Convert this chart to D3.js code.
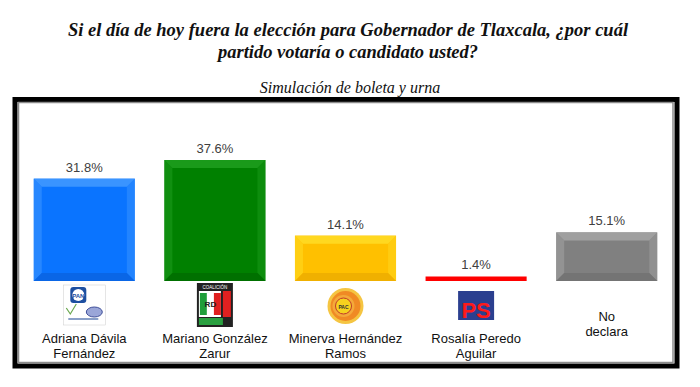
<!DOCTYPE html>
<html>
<head>
<meta charset="utf-8">
<script src="https://cdn.jsdelivr.net/npm/d3@7"></script>
<style>
  body { margin: 0; background: #fff; }
  svg { display: block; }
</style>
</head>
<body>
<script>
// Data
var candidatos = [
  ["Adriana Dávila", "Fernández"],
  ["Mariano González", "Zarur"],
  ["Minerva Hernández", "Ramos"],
  ["Rosalía Peredo", "Aguilar"],
  ["No", "declara"]
];
var valores = [31.8, 37.6, 14.1, 1.4, 15.1];
var logos = ["pan", "pri", "pac", "ps", ""];

// Colours: base, light edge, dark edge
var colores = [
  {base: "#0a74ff", light: "#3a94ff", dark: "#0a66e6"},
  {base: "#008000", light: "#1a9a1a", dark: "#007000"},
  {base: "#ffc000", light: "#ffd820", dark: "#f0b000"},
  {base: "#ff0000", light: "#ff2020", dark: "#e80000"},
  {base: "#808080", light: "#a0a0a0", dark: "#747474"}
];

var width = 700, height = 387;

var svg = d3.select("body").append("svg")
    .attr("width", width)
    .attr("height", height);

// Title
var title = svg.append("text")
    .attr("text-anchor", "middle")
    .style("font-family", "'Liberation Serif', 'Times New Roman', serif")
    .style("font-weight", "bold")
    .style("font-style", "italic")
    .style("font-size", "18.5px")
    .attr("fill", "#111");
title.append("tspan").attr("x", 348).attr("y", 36)
    .text("Si el día de hoy fuera la elección para Gobernador de Tlaxcala, ¿por cuál");
title.append("tspan").attr("x", 348).attr("y", 58)
    .text("partido votaría o candidato usted?");

svg.append("text")
    .attr("x", 350).attr("y", 93)
    .attr("text-anchor", "middle")
    .style("font-family", "'Liberation Serif', 'Times New Roman', serif")
    .style("font-style", "italic")
    .style("font-size", "16px")
    .attr("fill", "#111")
    .text("Simulación de boleta y urna");

// Frame (double border)
svg.append("rect")
    .attr("x", 15).attr("y", 99.5)
    .attr("width", 662).attr("height", 266.5)
    .attr("fill", "#fff")
    .attr("stroke", "#000")
    .attr("stroke-width", 5);
svg.append("rect")
    .attr("x", 18.5).attr("y", 102.5)
    .attr("width", 654.5).attr("height", 260)
    .attr("fill", "none")
    .attr("stroke", "#8c8c8c")
    .attr("stroke-width", 1.5);

// Scales
var x = d3.scaleBand()
    .domain(d3.range(valores.length))
    .range([19, 672])
    .paddingInner(0.226)
    .paddingOuter(0.113);

var y = d3.scaleLinear()
    .domain([0, 37.6])
    .range([281, 160]);

// Bars with a soft bevel
var bars = svg.selectAll("g.bar")
    .data(valores)
  .enter().append("g")
    .attr("class", "bar");

bars.each(function(d, i) {
  var g = d3.select(this);
  var x0 = x(i), x1 = x(i) + x.bandwidth();
  var y0 = y(d), y1 = y(0);
  var c = colores[i];
  var b = Math.min(8, (y1 - y0) / 2);
  g.append("rect")
      .attr("x", x0).attr("y", y0)
      .attr("width", x1 - x0).attr("height", y1 - y0)
      .attr("fill", c.base);
  if (y1 - y0 < 10) return;
  // top edge
  g.append("path")
      .attr("d", "M" + x0 + "," + y0 + "L" + x1 + "," + y0 + "L" + (x1 - b) + "," + (y0 + b) + "L" + (x0 + b) + "," + (y0 + b) + "Z")
      .attr("fill", c.light);
  // left edge
  g.append("path")
      .attr("d", "M" + x0 + "," + y0 + "L" + (x0 + b) + "," + (y0 + b) + "L" + (x0 + b) + "," + (y1 - b) + "L" + x0 + "," + y1 + "Z")
      .attr("fill", c.light).attr("opacity", 0.6);
  // right edge
  g.append("path")
      .attr("d", "M" + x1 + "," + y0 + "L" + x1 + "," + y1 + "L" + (x1 - b) + "," + (y1 - b) + "L" + (x1 - b) + "," + (y0 + b) + "Z")
      .attr("fill", c.light).attr("opacity", 0.5);
  // bottom edge
  g.append("path")
      .attr("d", "M" + x0 + "," + y1 + "L" + (x0 + b) + "," + (y1 - b) + "L" + (x1 - b) + "," + (y1 - b) + "L" + x1 + "," + y1 + "Z")
      .attr("fill", c.dark);
});

// Value labels
svg.selectAll("text.valor")
    .data(valores)
  .enter().append("text")
    .attr("class", "valor")
    .attr("x", function(d, i) { return x(i) + x.bandwidth() / 2; })
    .attr("y", function(d) { return y(d) - 7; })
    .attr("text-anchor", "middle")
    .style("font-family", "'Liberation Sans', Arial, sans-serif")
    .style("font-size", "13px")
    .attr("fill", "#404040")
    .text(function(d) { return d3.format(".1f")(d) + "%"; });

// Category labels
var cat = svg.selectAll("text.cat")
    .data(candidatos)
  .enter().append("text")
    .attr("class", "cat")
    .attr("text-anchor", "middle")
    .style("font-family", "'Liberation Sans', Arial, sans-serif")
    .style("font-size", "13px")
    .attr("fill", "#111");
cat.each(function(d, i) {
  var t = d3.select(this);
  var cx = x(i) + x.bandwidth() / 2;
  var base = logos[i] ? 343 : 321;
  d.forEach(function(line, j) {
    t.append("tspan").attr("x", cx).attr("y", base + j * 14.5).text(line);
  });
});

// Party logos (simplified drawings)
logos.forEach(function(l, i) {
  if (!l) return;
  var cx = x(i) + x.bandwidth() / 2;
  var g = svg.append("g").attr("transform", "translate(" + cx + ",0)");
  if (l === "pan") {
    g.append("rect").attr("x", -21).attr("y", 285).attr("width", 42).attr("height", 40)
        .attr("fill", "#fff").attr("stroke", "#ccc").attr("stroke-width", 0.5);
    g.append("rect").attr("x", -14).attr("y", 287).attr("width", 16).attr("height", 16)
        .attr("rx", 3).attr("fill", "#1d4fa0");
    g.append("circle").attr("cx", -6).attr("cy", 295).attr("r", 6).attr("fill", "#fff");
    g.append("text").attr("x", -6).attr("y", 297.5).attr("text-anchor", "middle")
        .style("font-family", "'Liberation Sans', Arial, sans-serif")
        .style("font-size", "6px").style("font-weight", "bold")
        .attr("fill", "#1d4fa0").text("PAN");
    g.append("ellipse").attr("cx", 10).attr("cy", 312).attr("rx", 8).attr("ry", 5)
        .attr("fill", "#9aa6d8").attr("stroke", "#40509a").attr("stroke-width", 1);
    g.append("path").attr("d", "M-18,308 L-14,314 L-8,304")
        .attr("fill", "none").attr("stroke", "#6aa84f").attr("stroke-width", 1.2);
    g.append("rect").attr("x", -16).attr("y", 318).attr("width", 30).attr("height", 2)
        .attr("fill", "#8aa0c8");
  } else if (l === "pri") {
    g.append("rect").attr("x", -18).attr("y", 283).attr("width", 36).attr("height", 44)
        .attr("fill", "#222");
    g.append("text").attr("x", 0).attr("y", 289).attr("text-anchor", "middle")
        .style("font-family", "'Liberation Sans', Arial, sans-serif")
        .style("font-size", "4.5px").attr("fill", "#fff").text("COALICIÓN");
    g.append("rect").attr("x", -16).attr("y", 291).attr("width", 22).attr("height", 26).attr("fill", "#fff");
    g.append("rect").attr("x", -15).attr("y", 293).attr("width", 7).attr("height", 22).attr("fill", "#1f9e3a");
    g.append("rect").attr("x", -8).attr("y", 293).attr("width", 7).attr("height", 22).attr("fill", "#fff");
    g.append("rect").attr("x", -1).attr("y", 293).attr("width", 7).attr("height", 22).attr("fill", "#e02020");
    g.append("text").attr("x", -4.5).attr("y", 307).attr("text-anchor", "middle")
        .style("font-family", "'Liberation Sans', Arial, sans-serif")
        .style("font-size", "8px").style("font-weight", "bold")
        .attr("fill", "#222").text("RD");
    g.append("rect").attr("x", 8).attr("y", 291).attr("width", 8).attr("height", 26).attr("fill", "#e02020");
    g.append("rect").attr("x", -16).attr("y", 318).attr("width", 24).attr("height", 7).attr("fill", "#2aa040");
  } else if (l === "pac") {
    g.append("circle").attr("cx", 0).attr("cy", 306).attr("r", 18).attr("fill", "#f5c542");
    g.append("circle").attr("cx", 0).attr("cy", 306).attr("r", 15).attr("fill", "#f08a24");
    g.append("circle").attr("cx", -2).attr("cy", 306).attr("r", 11).attr("fill", "#f4a93a");
    g.append("circle").attr("cx", -2).attr("cy", 306).attr("r", 8).attr("fill", "#f7d11e")
        .attr("stroke", "#c0392b").attr("stroke-width", 1);
    g.append("text").attr("x", -2).attr("y", 309).attr("text-anchor", "middle")
        .style("font-family", "'Liberation Sans', Arial, sans-serif")
        .style("font-size", "5px").style("font-weight", "bold")
        .attr("fill", "#333").text("PAC");
  } else if (l === "ps") {
    g.append("rect").attr("x", -18).attr("y", 291).attr("width", 36).attr("height", 29)
        .attr("fill", "#2b3f8f");
    g.append("text").attr("x", 0).attr("y", 318).attr("text-anchor", "middle")
        .style("font-family", "'Liberation Sans', Arial, sans-serif")
        .style("font-size", "22px").style("font-weight", "bold")
        .attr("fill", "#ff1a1a").text("PS");
  }
});
</script>
</body>
</html>
